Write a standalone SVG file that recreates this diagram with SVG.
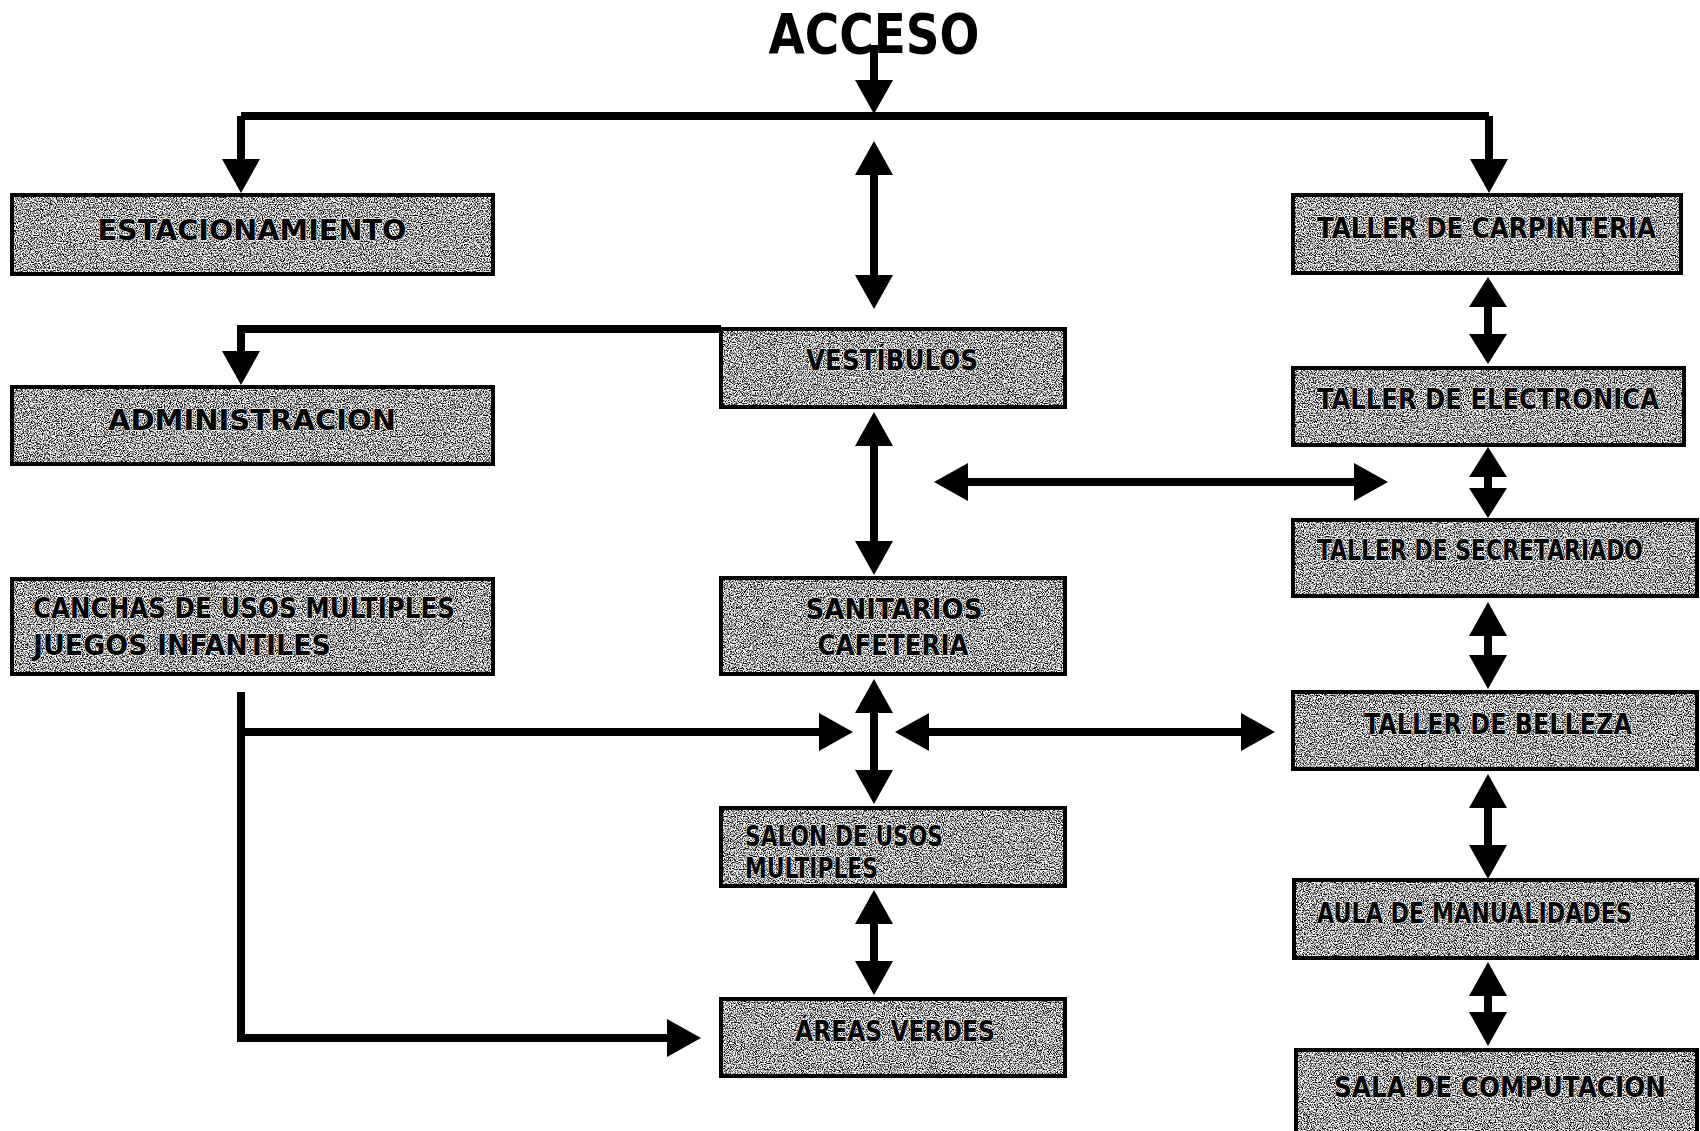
<svg xmlns="http://www.w3.org/2000/svg" width="1700" height="1131" viewBox="0 0 1700 1131">
<style>
.fillr{fill:#999;filter:url(#speckle);}
.frame{fill:none;stroke:#000;stroke-width:4;}
.t{font-family:"DejaVu Sans Condensed","DejaVu Sans","Liberation Sans",sans-serif;font-stretch:condensed;font-weight:bold;font-size:29px;fill:#000;stroke:#fff;stroke-width:0.8;paint-order:stroke;}
.c{fill:none;stroke:#000;stroke-width:8;stroke-linejoin:miter;}
.a{marker-end:url(#ah);}
.d{marker-start:url(#ah);marker-end:url(#ah);}
.ds{marker-start:url(#ahs);marker-end:url(#ahs);}
</style>
<defs>
<filter id="speckle" x="0" y="0" width="1" height="1" color-interpolation-filters="sRGB">
<feTurbulence type="fractalNoise" baseFrequency="0.85" numOctaves="2" seed="7" result="n"/>
<feColorMatrix in="n" type="matrix" values="1 0 0 0 0  1 0 0 0 0  1 0 0 0 0  0 0 0 0 1" result="g"/>
<feComponentTransfer in="g" result="k">
<feFuncR type="linear" slope="3.6" intercept="-1.15"/>
<feFuncG type="linear" slope="3.6" intercept="-1.15"/>
<feFuncB type="linear" slope="3.6" intercept="-1.15"/>
</feComponentTransfer>
<feComposite in="k" in2="SourceGraphic" operator="in"/>
</filter>
<marker id="ah" markerUnits="userSpaceOnUse" markerWidth="34" markerHeight="38" refX="2" refY="19" orient="auto-start-reverse">
<path d="M0,0 L34,19 L0,38 Z" fill="#000"/>
</marker>
<marker id="ahs" markerUnits="userSpaceOnUse" markerWidth="30" markerHeight="38" refX="2" refY="19" orient="auto-start-reverse">
<path d="M0,0 L30,19 L0,38 Z" fill="#000"/>
</marker>
</defs>
<rect width="1700" height="1131" fill="#fff"/>

<g id="acceso">
<text x="874" y="53" text-anchor="middle" font-family="DejaVu Sans Condensed, DejaVu Sans, sans-serif" font-weight="bold" font-size="56" textLength="211" lengthAdjust="spacingAndGlyphs">ACCESO</text>
</g>

<g id="connectors">
<path class="c a" d="M874,45 V82"/>
<path class="c" d="M241,116 H1489" stroke-width="9"/>
<path class="c a" d="M241,116 V161"/>
<path class="c a" d="M1489,116 V161"/>
<path class="c d" d="M874,173 V277"/>
<path class="c a" d="M721,329 H241 V353"/>
<path class="c d" d="M874,444 V543"/>
<path class="c d" d="M966,482 H1356"/>
<path class="c ds" d="M1488,305 V336"/>
<path class="c ds" d="M1488,475 V490"/>
<path class="c d" d="M1488,634 V657"/>
<path class="c d" d="M1488,806 V847"/>
<path class="c d" d="M1488,994 V1014"/>
<path class="c d" d="M874,711 V772"/>
<path class="c" d="M241,692 V1038"/>
<path class="c a" d="M237,732 H821"/>
<path class="c a" d="M237,1038 H669"/>
<path class="c d" d="M927,732 H1243"/>
<path class="c d" d="M874,922 V963"/>
</g>

<g id="estacionamiento">
<rect class="fillr" x="12" y="195" width="481" height="79"/>
<rect class="frame" x="12" y="195" width="481" height="79"/>
<text class="t" x="252" y="240" text-anchor="middle" textLength="309" lengthAdjust="spacingAndGlyphs">ESTACIONAMIENTO</text>
</g>
<g id="administracion">
<rect class="fillr" x="12" y="387" width="481" height="77"/>
<rect class="frame" x="12" y="387" width="481" height="77"/>
<text class="t" x="252" y="430" text-anchor="middle" textLength="288" lengthAdjust="spacingAndGlyphs">ADMINISTRACION</text>
</g>
<g id="canchas">
<rect class="fillr" x="12" y="579" width="481" height="95"/>
<rect class="frame" x="12" y="579" width="481" height="95"/>
<text class="t" x="33" y="618" textLength="422" lengthAdjust="spacingAndGlyphs">CANCHAS DE USOS MULTIPLES</text>
<text class="t" x="33" y="655" textLength="298" lengthAdjust="spacingAndGlyphs">JUEGOS INFANTILES</text>
</g>
<g id="vestibulos">
<rect class="fillr" x="721" y="329" width="344" height="78"/>
<rect class="frame" x="721" y="329" width="344" height="78"/>
<text class="t" x="892" y="370" text-anchor="middle" textLength="172" lengthAdjust="spacingAndGlyphs">VESTÍBULOS</text>
</g>
<g id="sanitarios">
<rect class="fillr" x="721" y="578" width="344" height="96"/>
<rect class="frame" x="721" y="578" width="344" height="96"/>
<text class="t" x="894" y="619" text-anchor="middle" textLength="177" lengthAdjust="spacingAndGlyphs">SANITARIOS</text>
<text class="t" x="893" y="655" text-anchor="middle" textLength="151" lengthAdjust="spacingAndGlyphs">CAFETERIA</text>
</g>
<g id="salon">
<rect class="fillr" x="721" y="808" width="344" height="78"/>
<rect class="frame" x="721" y="808" width="344" height="78"/>
<text class="t" x="745" y="846" textLength="198" lengthAdjust="spacingAndGlyphs">SALON DE USOS</text>
<text class="t" x="745" y="878" textLength="133" lengthAdjust="spacingAndGlyphs">MULTIPLES</text>
</g>
<g id="areas">
<rect class="fillr" x="721" y="999" width="344" height="77"/>
<rect class="frame" x="721" y="999" width="344" height="77"/>
<text class="t" x="895" y="1041" text-anchor="middle" textLength="200" lengthAdjust="spacingAndGlyphs">ÁREAS VERDES</text>
</g>
<g id="carpinteria">
<rect class="fillr" x="1293" y="195" width="388" height="78"/>
<rect class="frame" x="1293" y="195" width="388" height="78"/>
<text class="t" x="1317" y="238" textLength="339" lengthAdjust="spacingAndGlyphs">TALLER DE CARPINTERIA</text>
</g>
<g id="electronica">
<rect class="fillr" x="1293" y="368" width="391" height="77"/>
<rect class="frame" x="1293" y="368" width="391" height="77"/>
<text class="t" x="1317" y="409" textLength="342" lengthAdjust="spacingAndGlyphs">TALLER DE ELECTRONICA</text>
</g>
<g id="secretariado">
<rect class="fillr" x="1293" y="520" width="404" height="76"/>
<rect class="frame" x="1293" y="520" width="404" height="76"/>
<text class="t" x="1317" y="560" font-size="27" textLength="326" lengthAdjust="spacingAndGlyphs">TALLER DE SECRETARIADO</text>
</g>
<g id="belleza">
<rect class="fillr" x="1293" y="692" width="404" height="77"/>
<rect class="frame" x="1293" y="692" width="404" height="77"/>
<text class="t" x="1364" y="734" textLength="268" lengthAdjust="spacingAndGlyphs">TALLER DE BELLEZA</text>
</g>
<g id="manualidades">
<rect class="fillr" x="1294" y="880" width="403" height="78"/>
<rect class="frame" x="1294" y="880" width="403" height="78"/>
<text class="t" x="1317" y="923" textLength="315" lengthAdjust="spacingAndGlyphs">AULA DE MANUALIDADES</text>
</g>
<g id="computacion">
<rect class="fillr" x="1296" y="1050" width="401" height="90"/>
<rect class="frame" x="1296" y="1050" width="401" height="90"/>
<text class="t" x="1334" y="1097" textLength="332" lengthAdjust="spacingAndGlyphs">SALA DE COMPUTACION</text>
</g>
</svg>
